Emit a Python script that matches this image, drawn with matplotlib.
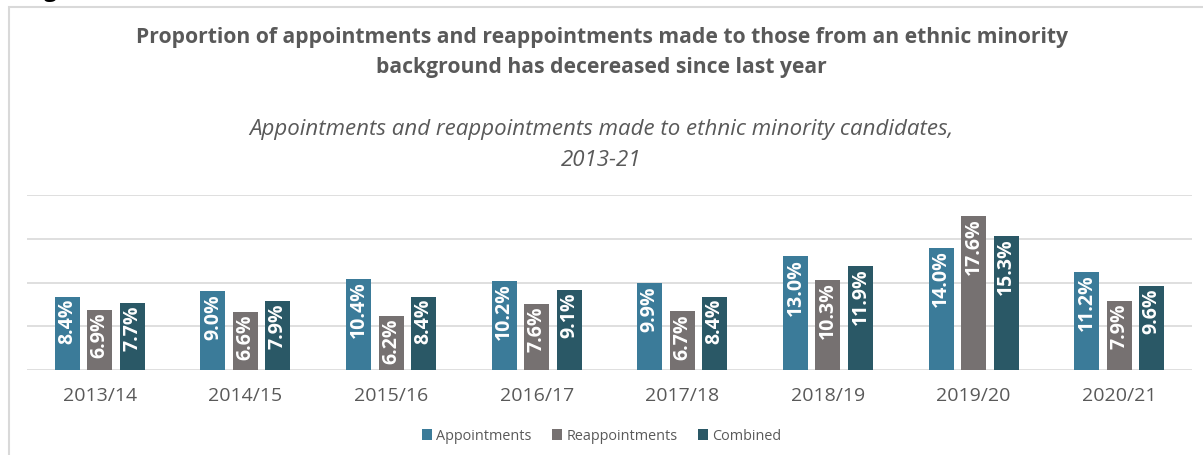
import numpy as np
import matplotlib.pyplot as plt
from matplotlib.patches import Rectangle

plt.rcParams['font.family'] = ['Open Sans', 'DejaVu Sans']

years = ["2013/14", "2014/15", "2015/16", "2016/17", "2017/18",
         "2018/19", "2019/20", "2020/21"]
appointments = [8.4, 9.0, 10.4, 10.2, 9.9, 13.0, 14.0, 11.2]
reappointments = [6.9, 6.6, 6.2, 7.6, 6.7, 10.3, 17.6, 7.9]
combined = [7.7, 7.9, 8.4, 9.1, 8.4, 11.9, 15.3, 9.6]

series = [("Appointments", appointments, "#3B7B99"),
          ("Reappointments", reappointments, "#767171"),
          ("Combined", combined, "#2A5866")]

text_grey = "#595959"

fig = plt.figure(figsize=(12.03, 4.55), dpi=100)
ax = fig.add_axes([27 / 1203, 1 - 370 / 455, (1192 - 27) / 1203, (370 - 195) / 455])

x = np.arange(len(years))
width = 0.172
pitch = 0.223
for i, (name, vals, col) in enumerate(series):
    pos = x + (i - 1) * pitch
    bars = ax.bar(pos, vals, width, color=col, label=name, zorder=3)
    for b, v in zip(bars, vals):
        ax.text(b.get_x() + b.get_width() / 2, v - 0.3, f"{v:.1f}%",
                rotation=90, ha="center", va="top", color="white",
                fontsize=14, fontweight="bold", zorder=4)

ax.set_xlim(-0.5, len(years) - 0.5)
ax.set_ylim(0, 20)
ax.set_yticks([0, 5, 10, 15, 20])
ax.set_yticklabels([])
ax.yaxis.grid(True, color="#D9D9D9", linewidth=1.2, zorder=0)
ax.tick_params(axis="y", length=0)
ax.set_xticks(x)
ax.set_xticklabels(years, fontsize=14, color=text_grey)
ax.tick_params(axis="x", length=0, pad=12)
for s in ax.spines.values():
    s.set_visible(False)

fig.text(0.5, 1 - 37 / 455,
         "Proportion of appointments and reappointments made to those from an ethnic minority",
         ha="center", va="center", fontsize=15.2, fontweight="bold", color=text_grey)
fig.text(0.5, 1 - 68 / 455, "background has decereased since last year",
         ha="center", va="center", fontsize=15.2, fontweight="bold", color=text_grey)
fig.text(0.5, 1 - 130 / 455,
         "Appointments and reappointments made to ethnic minority candidates,",
         ha="center", va="center", fontsize=16, style="italic", color=text_grey)
fig.text(0.5, 1 - 160 / 455, "2013-21",
         ha="center", va="center", fontsize=16, style="italic", color=text_grey)

leg = fig.legend(loc="center", bbox_to_anchor=(0.5, 1 - 436 / 455), ncol=3,
                 frameon=False, fontsize=10.4, handlelength=0.7, handleheight=0.7,
                 handletextpad=0.3, columnspacing=1.4)
for t in leg.get_texts():
    t.set_color(text_grey)

# heading above the chart box, only its lower edge shows
fig.text(25 / 1203, 1 + 3 / 455, "Fig", ha="left", va="baseline",
         fontsize=16, fontweight="bold", color="black")

# outer chart border
fig.patches.append(Rectangle((9 / 1203, -0.05), 1.2, 1 - 7 / 455 + 0.05,
                             transform=fig.transFigure, fill=False,
                             edgecolor="#D9D9D9", linewidth=1.5))

fig.savefig("out.png", dpi=100)
